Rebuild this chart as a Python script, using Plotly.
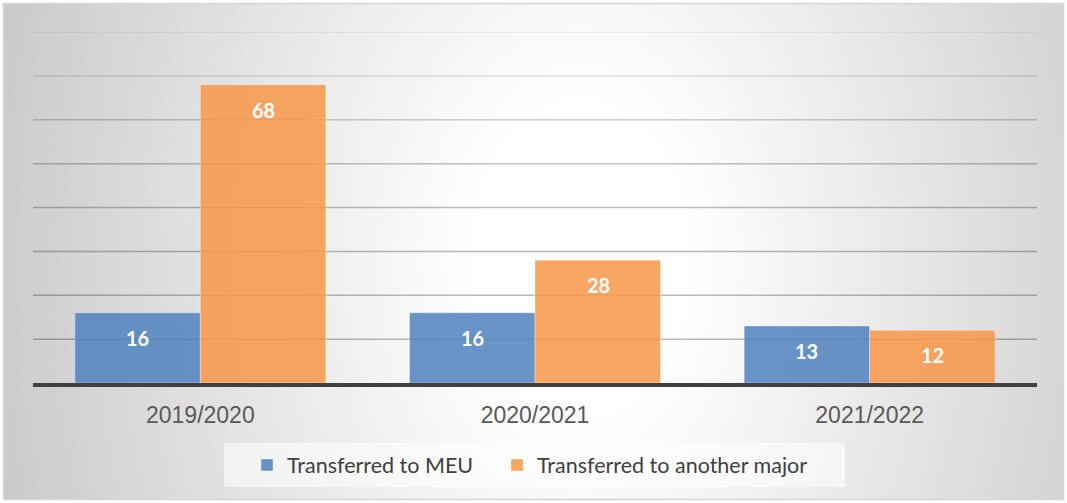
import base64
import plotly.graph_objects as go

categories = ["2019/2020", "2020/2021", "2021/2022"]
series_names = ["Transferred to MEU", "Transferred to another major"]
meu_values = [16, 16, 13]
other_values = [68, 28, 12]
grid_values = [10, 20, 30, 40, 50, 60, 70, 80]
grid_alpha = [0.27, 0.27, 0.27, 0.26, 0.24, 0.19, 0.12, 0.07]

W, H = 1067, 503
ML, MR, MT, MB = 33, 30, 32, 120
PW, PH = W - ML - MR, H - MT - MB


def px_x(p):
    return (p - ML) / PW


def px_y(p):
    return (H - MB - p) / PH


svg = f'''<svg xmlns="http://www.w3.org/2000/svg" width="{W}" height="{H}" viewBox="0 0 {W} {H}" preserveAspectRatio="none">
<defs><radialGradient id="g" gradientUnits="userSpaceOnUse" cx="0" cy="0" r="1" gradientTransform="translate(580 260) scale(760 1100)">
<stop offset="0" stop-color="#ffffff"/><stop offset="0.14" stop-color="#ffffff"/><stop offset="1" stop-color="#b9b9b9"/></radialGradient></defs>
<rect x="0" y="0" width="{W}" height="{H}" fill="#ffffff"/>
<rect x="3.5" y="3.5" width="{W-7}" height="{H-7}" fill="url(#g)" stroke="#d6d6d6" stroke-width="1.5"/>
</svg>'''
src = "data:image/svg+xml;base64," + base64.b64encode(svg.encode()).decode()

fig = go.Figure()
fig.add_trace(go.Bar(name=series_names[0], x=categories, y=meu_values, legend="legend",
                     marker=dict(color="rgba(79,129,189,0.85)", line=dict(color="rgba(255,255,255,0.35)", width=1))))
fig.add_trace(go.Bar(name=series_names[1], x=categories, y=other_values, legend="legend2",
                     marker=dict(color="rgba(247,150,70,0.85)", line=dict(color="rgba(255,255,255,0.35)", width=1))))

for vals, shift in ((meu_values, -63), (other_values, 63)):
    for c, v in zip(categories, vals):
        fig.add_annotation(x=c, y=v, xref="x", yref="y", text=f"<b>{v}</b>", showarrow=False,
                           xshift=shift, yshift=-25, font=dict(family="Lato", size=20, color="white"))

# gridlines (fading towards the top, as in the reference)
for gv, ga in zip(grid_values, grid_alpha):
    fig.add_shape(type="line", xref="paper", yref="y", x0=0, x1=1, y0=gv, y1=gv,
                  line=dict(color=f"rgba(0,0,0,{ga})", width=1.5), layer="below")

fig.add_layout_image(dict(source=src, xref="paper", yref="paper", x=-ML / PW, y=1 + MT / PH,
                          sizex=W / PW, sizey=H / PH, xanchor="left", yanchor="top",
                          sizing="stretch", layer="below"))

# legend backdrop box
fig.add_shape(type="rect", xref="paper", yref="paper", x0=px_x(224), x1=px_x(845),
              y0=px_y(487), y1=px_y(443), fillcolor="rgba(255,255,255,0.55)", line=dict(width=0),
              layer="below")

leg_common = dict(orientation="h", xref="paper", yref="paper", yanchor="middle", y=px_y(465),
                  bgcolor="rgba(0,0,0,0)", font=dict(family="Lato", size=21.5, color="#404040"),
                  itemwidth=30, xanchor="left")

fig.update_layout(
    width=W, height=H, barmode="group", bargap=0.25, bargroupgap=0,
    margin=dict(l=ML, r=MR, t=MT, b=MB),
    paper_bgcolor="white", plot_bgcolor="rgba(0,0,0,0)",
    showlegend=True,
    legend=dict(leg_common, x=px_x(247)),
    legend2=dict(leg_common, x=px_x(497)),
    xaxis=dict(showline=True, linecolor="#404040", linewidth=4, ticks="outside", ticklen=8,
               tickcolor="rgba(0,0,0,0)", tickfont=dict(family="Liberation Sans", size=23, color="#595959"),
               showgrid=False),
    yaxis=dict(range=[0, 80], tickvals=grid_values, showticklabels=False, showgrid=False,
               zeroline=False, fixedrange=True),
)

fig.write_html("out.html", config={"displayModeBar": False},
               post_script="document.body.style.margin='0';")
